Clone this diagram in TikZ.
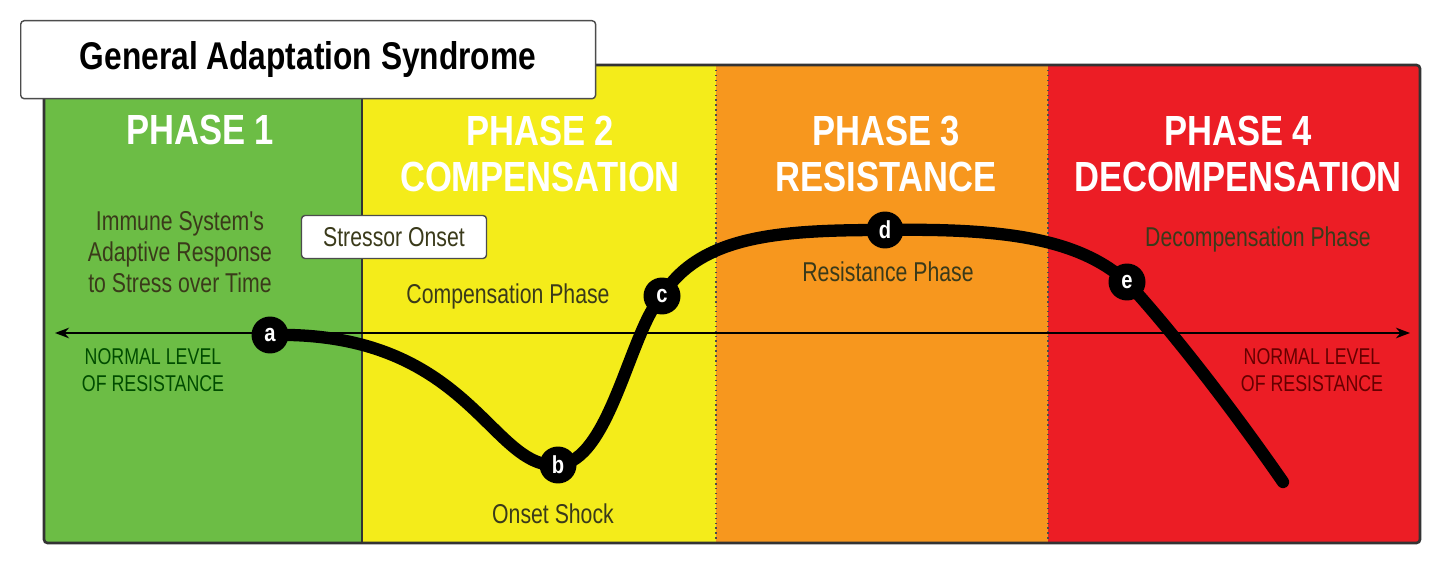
\documentclass[tikz,border=0pt]{standalone}
\usepackage{fontspec}
\setmainfont{Liberation Sans}[FakeStretch=0.82]
\newfontfamily\narrowf{Liberation Sans}[FakeStretch=0.78]
\usetikzlibrary{arrows.meta}
\definecolor{pgreen}{HTML}{6CBD45}
\definecolor{pyellow}{HTML}{F4EC1A}
\definecolor{porange}{HTML}{F7971E}
\definecolor{pred}{HTML}{EC1D25}
\definecolor{txtdark}{HTML}{3A3A1A}
\tikzset{x=0.02cm,y=-0.02cm,
  phase/.style={text=white,font=\fontsize{24}{26}\selectfont\bfseries,align=center},
  lbl/.style={text=txtdark,font=\narrowf\fontsize{15.5}{17.5}\selectfont,align=center},
  pt/.style={circle,fill=black,minimum size=0.74cm,inner sep=0pt,text=white,font=\fontsize{14}{14}\selectfont\bfseries},
  boxed/.style={draw=black!70,fill=white,rounded corners=2pt,line width=0.8pt}}
\begin{document}
\begin{tikzpicture}
\useasboundingbox (0,0) rectangle (1440,564);
\fill[pgreen] (44,65) rectangle (362,543);
\fill[pyellow] (362,65) rectangle (716,543);
\fill[porange] (716,65) rectangle (1048,543);
\fill[pred] (1048,65) rectangle (1420,543);
\draw[line width=1.2pt,black!80] (362,65) -- (362,543);
\draw[line width=0.8pt,black!70,dotted] (716,65) -- (716,543);
\draw[line width=0.8pt,black!70,dotted] (1048,65) -- (1048,543);
\draw[line width=1.5pt,black!80,rounded corners=2pt] (44,65) rectangle (1420,543);
\node[boxed,minimum width=11.5cm,minimum height=1.56cm,anchor=north west] (title) at (20,20) {};
\node[font=\fontsize{22}{24}\selectfont\bfseries] (tt) at (308,60) {General Adaptation Syndrome};
\node[phase] (p1) at (200,130) {PHASE 1};
\node[phase] (p2) at (540,154) {PHASE 2\\COMPENSATION};
\node[phase] (p3) at (886,154) {PHASE 3\\RESISTANCE};
\node[phase] (p4) at (1238,154) {PHASE 4\\DECOMPENSATION};
\node[lbl] (imm) at (180,252) {Immune System's\\Adaptive Response\\to Stress over Time};
\node[boxed,lbl,minimum width=3.7cm,minimum height=0.86cm] (so) at (394,237) {Stressor Onset};
\node[lbl] (cp) at (508,296) {Compensation Phase};
\node[lbl] (os) at (553,514) {Onset Shock};
\node[lbl] (rp) at (888,272) {Resistance Phase};
\node[lbl] (dp) at (1258,239) {Decompensation Phase};
\node[lbl,text=green!30!black,font=\narrowf\fontsize{13}{15}\selectfont] (n1) at (153,370) {NORMAL LEVEL\\OF RESISTANCE};
\node[lbl,text=red!40!black,font=\narrowf\fontsize{13}{15}\selectfont] (n2) at (1312,370) {NORMAL LEVEL\\OF RESISTANCE};
\coordinate (al) at (55,333);
\coordinate (ar) at (1410,333);
\draw[line width=1.2pt,{Stealth[length=8pt]}-{Stealth[length=8pt]}] (al) -- (ar);
\coordinate (ca) at (270,335);
\coordinate (cb) at (558,465);
\coordinate (cc) at (662,296);
\coordinate (cd) at (885,230);
\coordinate (ce) at (1127,282);
\coordinate (cf) at (1283,482);
\draw[line width=7pt,line cap=round] (ca) .. controls (470,330) and (490,470) .. (cb)
  .. controls (610,462) and (630,330) .. (cc)
  .. controls (700,235) and (780,230) .. (cd)
  .. controls (1010,228) and (1080,240) .. (ce)
  .. controls (1180,340) and (1240,420) .. (cf);
\node[pt] (a) at (ca) {a};
\node[pt] (b) at (cb) {b};
\node[pt] (c) at (cc) {c};
\node[pt] (d) at (cd) {d};
\node[pt] (e) at (ce) {e};
\end{tikzpicture}
\end{document}
